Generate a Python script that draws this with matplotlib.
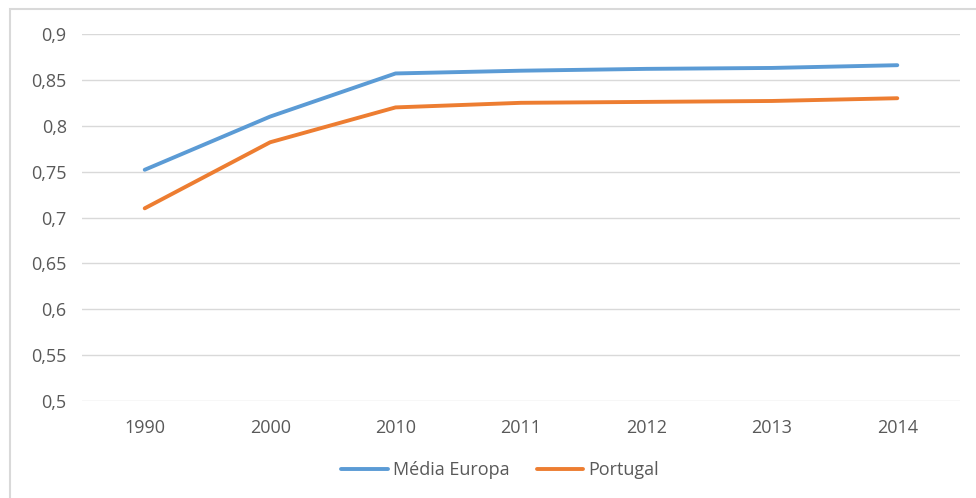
import matplotlib.pyplot as plt
from matplotlib.patches import Rectangle
from matplotlib.ticker import FuncFormatter

years = ["1990", "2000", "2010", "2011", "2012", "2013", "2014"]
media_europa = [0.752, 0.810, 0.857, 0.860, 0.862, 0.863, 0.866]
portugal = [0.710, 0.782, 0.820, 0.825, 0.826, 0.827, 0.830]
y_ticks = [0.5, 0.55, 0.6, 0.65, 0.7, 0.75, 0.8, 0.85, 0.9]

plt.rcParams["font.family"] = ["Open Sans", "DejaVu Sans"]

W, H = 976, 498
fig = plt.figure(figsize=(W / 100, H / 100), dpi=100)
ax = fig.add_axes([82 / W, 1 - 401 / H, (960 - 82) / W, (401 - 34) / H])

# outer chart border (cut off at right and bottom like the screenshot)
fig.patches.append(Rectangle((9.5 / W, -0.02), 1.1, 1 - 9.5 / H + 0.02,
                             transform=fig.transFigure, fill=False,
                             edgecolor="#d9d9d9", linewidth=1.5))

x = range(len(years))
ax.plot(x, media_europa, color="#5b9bd5", linewidth=2.8, label="Média Europa",
        solid_capstyle="round")
ax.plot(x, portugal, color="#ed7d31", linewidth=2.8, label="Portugal",
        solid_capstyle="round")

ax.set_xlim(-0.5, len(years) - 0.5)
ax.set_ylim(0.5, 0.9)
ax.set_xticks(list(x))
ax.set_xticklabels(years)
ax.set_yticks(y_ticks)
ax.yaxis.set_major_formatter(FuncFormatter(lambda v, p: f"{v:g}".replace(".", ",")))
ax.grid(axis="y", color="#d9d9d9", linewidth=1)
ax.set_axisbelow(True)
for s in ax.spines.values():
    s.set_visible(False)
ax.tick_params(length=0, labelsize=13, colors="#595959")
ax.tick_params(axis="y", pad=11)
ax.tick_params(axis="x", pad=13)

fig.legend(*ax.get_legend_handles_labels(), loc="center",
           bbox_to_anchor=(500 / W, 1 - 470 / H), ncol=2, frameon=False,
           fontsize=13, labelcolor="#595959", handlelength=2.6,
           handletextpad=0.25, columnspacing=1.5)

fig.savefig("out.png", dpi=100)
